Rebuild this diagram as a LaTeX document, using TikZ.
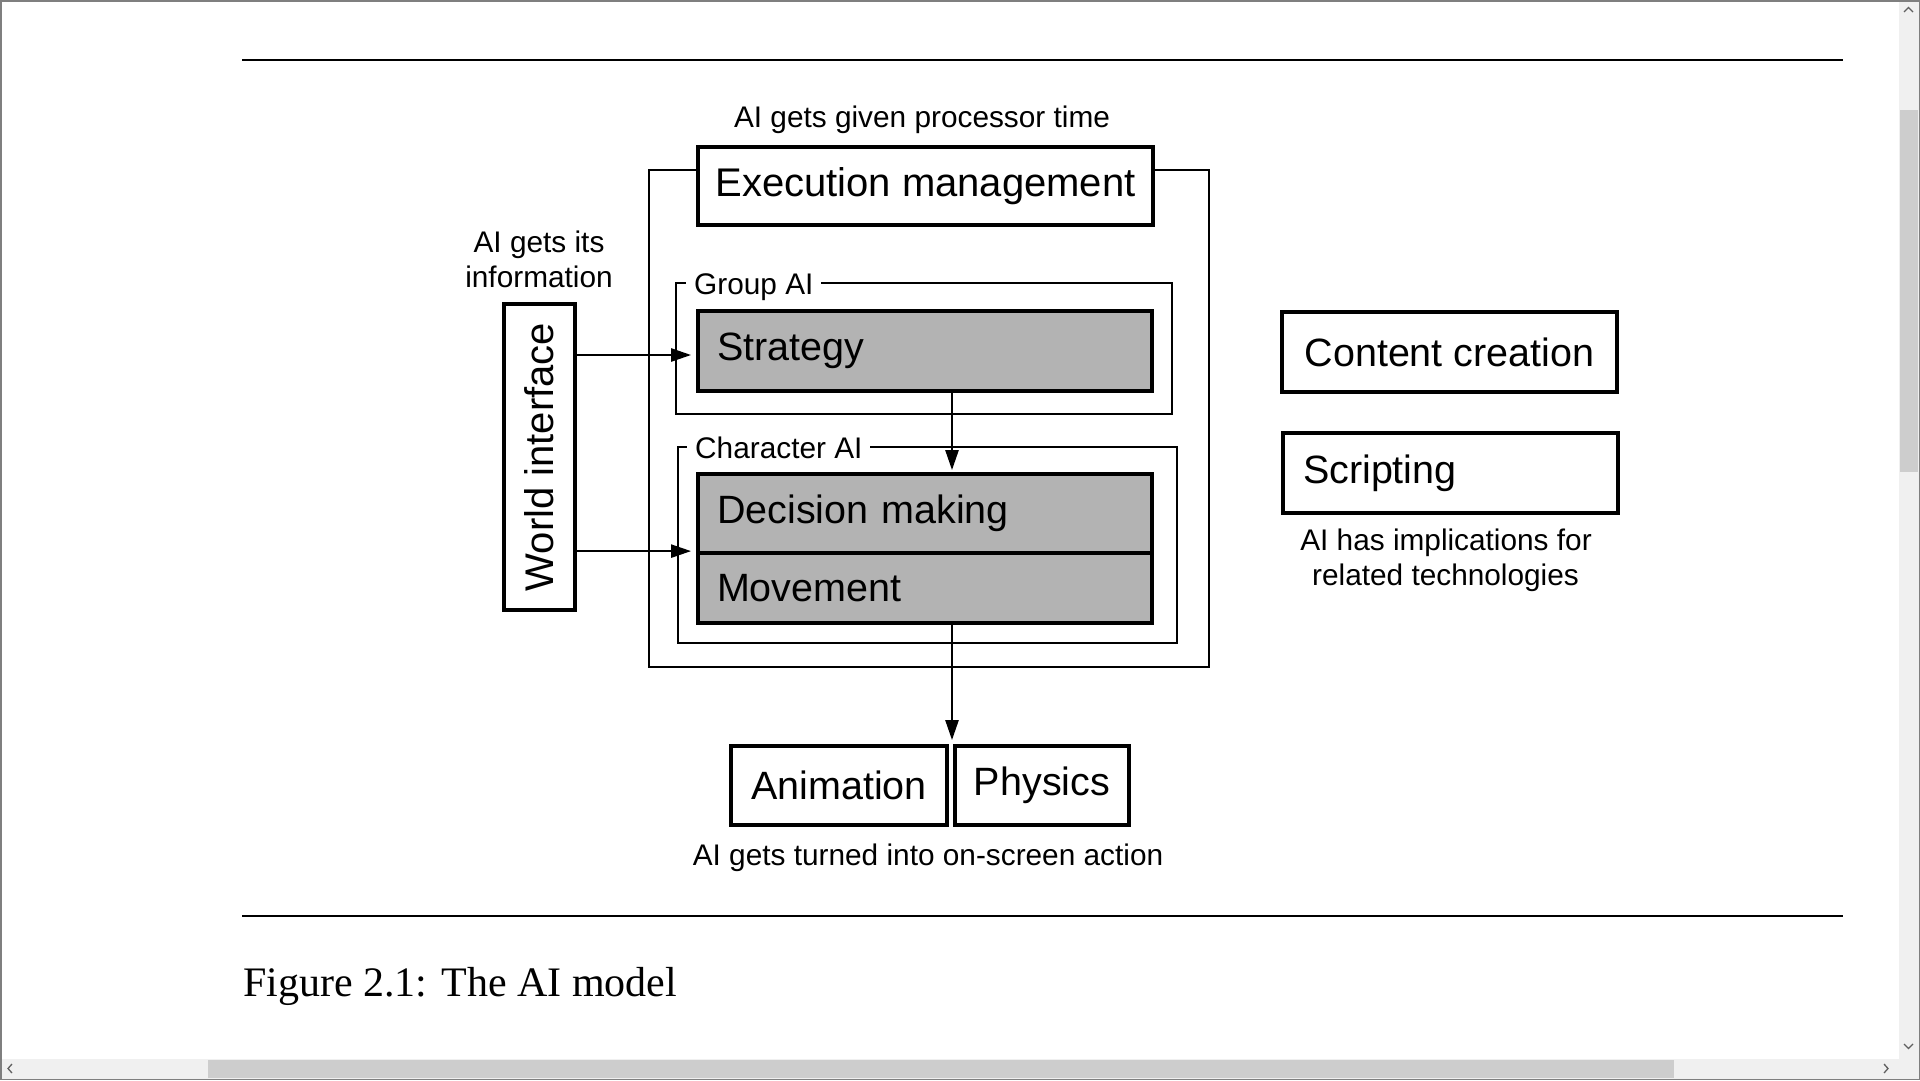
\documentclass[tikz,border=0pt]{standalone}
\usepackage{fontspec}
\setmainfont{Liberation Sans}
\newfontfamily\capfont{Liberation Serif}
\usetikzlibrary{arrows.meta}
\definecolor{boxgrey}{HTML}{B3B3B3}
\definecolor{trackgrey}{HTML}{F0F0F0}
\definecolor{thumbgrey}{HTML}{CDCDCD}
\definecolor{bordergrey}{HTML}{7F7F7F}
\definecolor{chevgrey}{HTML}{606060}
\newcommand{\dbigfont}{\fontsize{39.5}{47}\selectfont}
\newcommand{\dsmallfont}{\fontsize{29.8}{35}\selectfont}
\begin{document}
\begin{tikzpicture}[x=1pt,y=-1pt,
  thickbox/.style={draw=black, line width=3.8pt, inner sep=0pt, font=\dbigfont},
  greybox/.style={thickbox, fill=boxgrey, text width=416pt, inner xsep=19pt, align=left, minimum width=454pt},
  frameline/.style={draw=black, line width=2.2pt},
  framelabel/.style={fill=white, inner xsep=8pt, inner ysep=1pt, anchor=base west, font=\dsmallfont},
  note/.style={inner sep=0pt, anchor=base, font=\dsmallfont},
  arr/.style={draw=black, line width=2.4pt, -{Triangle[length=20pt,width=13pt]}},
  rulel/.style={draw=black, line width=2pt},
  chev/.style={draw=chevgrey, line width=1.3pt}
]
\useasboundingbox (0,0) rectangle (1920,1080);
\fill[white] (0,0) rectangle (1920,1080);

% page rules and caption
\draw[rulel] (242,60) -- (1843,60);
\draw[rulel] (242,916) -- (1843,916);
\node[anchor=base west, inner sep=0pt, font=\capfont\fontsize{42}{50}\selectfont] (caption) at (243,996) {Figure 2.1: The AI model};

% execution management
\node[note] (ttime) at (922,127) {AI gets given processor time};
\node[thickbox, minimum width=455pt, minimum height=78pt, font=\fontsize{40}{48}\selectfont] (exec) at (925.5,186) {Execution management};
\draw[frameline] (exec.west |- 0,170) -- (649,170) -- (649,667) -- (1208.6,667) -- (1208.6,170) -- (exec.east |- 0,170);

% group AI
\draw[frameline] (676,283) rectangle (1172,414);
\node[framelabel] (glabel) at (686,294) {Group AI};
\node[greybox, minimum height=80pt] (strat) at (925,351) {Strategy};

% character AI
\draw[frameline] (678,447) rectangle (1177,643);
\node[framelabel] (clabel) at (687,458) {Character AI};
\node[greybox, minimum height=79pt] (dm) at (925,513.5) {Decision making};
\node[greybox, minimum height=70pt] (mov) at (925,588) {Movement};

% world interface
\node[note] (info1) at (539,252) {AI gets its};
\node[note] (info2) at (539,287) {information};
\node[thickbox, rotate=90, minimum width=306pt, minimum height=71pt, font=\fontsize{40}{48}\selectfont] (world) at (539.5,457) {World interface};

% animation / physics
\node[thickbox, minimum width=216pt, minimum height=79pt] (anim) at (839,785.5) {Animation};
\node[thickbox, minimum width=174pt, minimum height=79pt] (phys) at (1042,785.5) {Physics};
\node[note] (action) at (928,865) {AI gets turned into on-screen action};

% related technologies
\node[thickbox, minimum width=335pt, minimum height=80pt] (content) at (1449.5,352) {Content creation};
\node[thickbox, text width=295pt, inner xsep=20pt, align=left, minimum height=80pt] (script) at (1450.5,473) {Scripting};
\node[note] (impl1) at (1446,550) {AI has implications for};
\node[note] (impl2) at (1445.5,585) {related technologies};

% arrows
\coordinate (ax) at (952,0);
\draw[arr, shorten >=5pt] (world.south |- 0,355) -- (strat.west |- 0,355);
\draw[arr, shorten >=5pt] (world.south |- mov.north) -- (mov.north west);
\draw[arr, shorten >=2pt] (strat.south -| ax) -- (dm.north -| ax);
\draw[arr, shorten >=4pt] (mov.south -| ax) -- (anim.north -| ax);

% window scrollbars
\fill[trackgrey] (1899,0) rectangle (1919,1059);
\fill[thumbgrey] (1900,110) rectangle (1918,472);
\fill[trackgrey] (0,1059) rectangle (1919,1079);
\fill[thumbgrey] (208,1060) rectangle (1674,1078);
\draw[chev] (1904,12) -- (1908.5,7.5) -- (1913,12);
\draw[chev] (1904,1044) -- (1908.5,1048.5) -- (1913,1044);
\draw[chev] (12,1064) -- (8,1068.5) -- (12,1073);
\draw[chev] (1884,1064) -- (1888,1068.5) -- (1884,1073);
\draw[bordergrey, line width=1.5pt] (0.75,0.75) rectangle (1919.25,1079.25);
\end{tikzpicture}
\end{document}
